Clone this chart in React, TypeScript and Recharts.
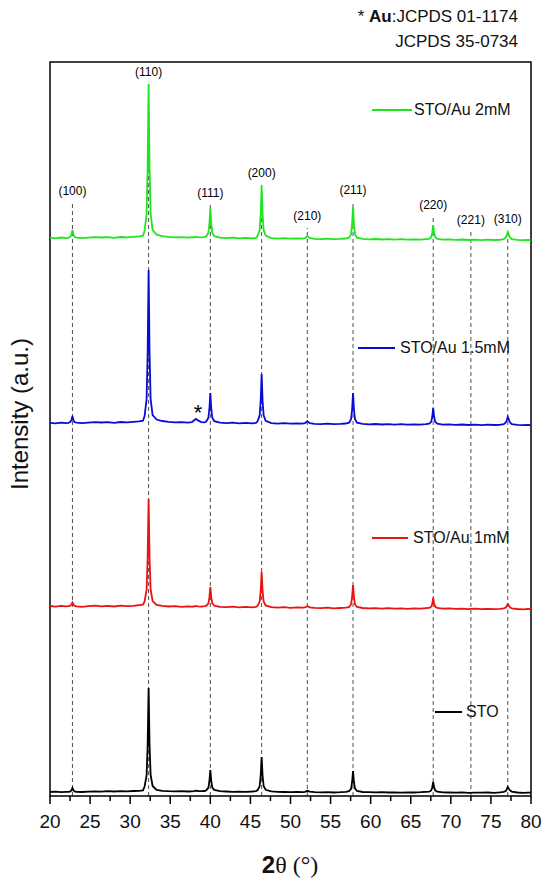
import { LineChart, Line, XAxis, YAxis, ReferenceLine, ReferenceArea, ReferenceDot } from "recharts";

// 2θ sampling (degrees)
const twoTheta = [
  20, 20.7, 21.4, 22.0,
  22.3, 22.55, 22.68, 22.8, 22.92, 23.05, 23.3,
  24.0, 24.8, 25.6, 26.4, 27.2, 28.0, 28.8, 29.6, 30.4, 31.1, 31.6,
  31.8, 32.05, 32.18, 32.3, 32.42, 32.55, 32.8,
  33.3, 34.0, 34.8, 35.6, 36.4, 37.2, 37.7,
  37.95, 38.2, 38.45,
  38.9, 39.3,
  39.5, 39.75, 39.88, 40.0, 40.12, 40.25, 40.5,
  41.2, 42.0, 42.8, 43.6, 44.4, 45.2, 45.7,
  45.9, 46.15, 46.28, 46.4, 46.52, 46.65, 46.9,
  47.6, 48.4, 49.2, 50.0, 50.8, 51.5,
  51.8, 52.1, 52.4,
  53.0, 53.8, 54.6, 55.4, 56.2, 56.9,
  57.3, 57.55, 57.68, 57.8, 57.92, 58.05, 58.3,
  59.0, 59.8, 60.6, 61.4, 62.2, 63.0, 63.8, 64.6, 65.4, 66.2, 66.9,
  67.3, 67.55, 67.68, 67.8, 67.92, 68.05, 68.3,
  69.0, 69.8, 70.6, 71.4, 72.2, 73.0, 73.8, 74.6, 75.4, 76.1, 76.6,
  76.85, 76.98, 77.1, 77.22, 77.35, 77.6,
  78.3, 79.0, 79.6, 80.0,
];

// stacked intensities (a.u., offset per sample)
const stoIntensity = [
  4.0, 4.3, 3.8, 4.2,
  4.1, 4.6, 5.8, 8.0, 5.8, 4.6, 4.2,
  4.0, 4.4, 4.6, 4.3, 4.8, 4.5, 4.9, 4.6, 5.0, 5.2, 5.6,
  9.5, 20.5, 51, 108, 51, 21, 10,
  6.0, 5.2, 4.8, 4.6, 4.9, 4.5, 4.7,
  4.8, 5.3, 5.0,
  4.8, 5.0,
  5.8, 8.2, 14.5, 26, 14.5, 8.4, 6.0,
  4.8, 4.5, 4.2, 4.4, 4.1, 4.5, 4.9,
  5.9, 9.7, 20, 39, 20, 9.9, 6.2,
  4.6, 4.2, 4.0, 3.8, 4.1, 3.9,
  4.2, 5.2, 4.3,
  3.8, 3.6, 3.9, 3.5, 3.8, 4.2,
  4.9, 7.2, 13.5, 25, 13.5, 7.3, 5.0,
  4.0, 3.8, 3.6, 3.9, 3.5, 3.7, 3.4, 3.6, 3.5, 3.8, 4.2,
  4.3, 5.5, 8.5, 14, 8.5, 5.6, 4.3,
  3.6, 3.5, 3.3, 3.6, 3.2, 3.4, 3.3, 3.5, 3.2, 3.6, 4.1,
  5.0, 6.8, 9, 7.4, 5.8, 4.4,
  3.5, 3.2, 3.4, 3.3,
];

const au1Intensity = [
  190.0, 189.4, 190.2, 189.6,
  189.8, 190.4, 191.5, 193.5, 191.6, 190.3, 189.7,
  189.2, 189.8, 190.3, 189.7, 190.1, 189.5, 190.4, 189.9, 190.2, 190.8, 191.3,
  194.5, 206, 238, 297, 238, 206.5, 195,
  191.2, 190.1, 189.5, 189.8, 189.2, 189.6, 189.3,
  189.5, 190.1, 189.6,
  189.4, 189.8,
  190.3, 192.5, 198.3, 209, 198.3, 192.6, 190.4,
  189.2, 188.8, 189.3, 188.7, 189.1, 188.6, 189.2,
  190.4, 194.3, 204.8, 224, 204.8, 194.5, 190.6,
  188.9, 188.4, 188.8, 188.2, 188.6, 188.3,
  188.6, 189.8, 188.7,
  188.1, 187.8, 188.3, 187.6, 188.0, 188.4,
  188.9, 191.5, 198.5, 211, 198.5, 191.6, 189.0,
  188.0, 187.6, 187.9, 187.4, 187.8, 187.3, 187.7, 187.2, 187.6, 187.3, 187.8,
  188.1, 189.3, 192.2, 198, 192.2, 189.4, 188.0,
  187.3, 187.6, 187.1, 187.4, 186.9, 187.3, 186.8, 187.2, 186.9, 187.1, 187.6,
  188.4, 189.9, 192, 190.5, 188.9, 187.6,
  187.0, 186.7, 187.1, 186.8,
];

const au15Intensity = [
  373.2, 372.6, 373.4, 372.9,
  373.2, 374.1, 376.1, 380, 376.0, 374.0, 373.3,
  372.8, 373.4, 373.9, 373.5, 373.8, 373.2, 374.0, 373.6, 374.2, 374.6, 375.3,
  380, 396.8, 443, 526, 443, 397, 381,
  376.5, 375.0, 374.2, 373.6, 373.9, 373.4, 373.8,
  375.5, 377.2, 375.6,
  373.9, 373.6,
  374.7, 378.0, 386.8, 403, 386.8, 378.2, 374.9,
  373.4, 372.9, 373.3, 372.7, 373.1, 372.6, 373.0,
  375.0, 380.4, 395.0, 422, 395.0, 380.6, 375.2,
  372.9, 372.4, 372.8, 372.3, 372.7, 372.4,
  372.8, 374.8, 372.9,
  372.2, 371.9, 372.4, 371.8, 372.1, 372.5,
  373.3, 376.7, 386.0, 403, 386.0, 376.8, 373.4,
  372.1, 371.7, 372.0, 371.5, 371.9, 371.4, 371.8, 371.3, 371.7, 371.4, 371.9,
  372.3, 374.1, 379.0, 388, 379.0, 374.2, 372.3,
  371.4, 371.7, 371.2, 371.5, 371.0, 371.4, 370.9, 371.3, 371.0, 371.2, 371.8,
  373.5, 376.0, 379, 376.8, 374.0, 371.9,
  371.1, 370.8, 371.2, 370.9,
];

const au2Intensity = [
  558.3, 557.7, 558.5, 557.9,
  558.2, 559.3, 561.6, 566, 561.5, 559.2, 558.3,
  557.8, 558.4, 558.9, 558.5, 558.8, 558.2, 559.0, 558.6, 559.2, 559.6, 560.3,
  565.1, 582, 628, 712, 628, 582.3, 566,
  561.3, 559.9, 559.1, 558.6, 558.9, 558.4, 558.8,
  558.7, 559.3, 558.8,
  558.6, 558.9,
  559.7, 563.0, 571.8, 588, 571.8, 563.2, 559.9,
  558.4, 557.9, 558.3, 557.7, 558.1, 557.6, 558.0,
  560.1, 565.8, 581.4, 610, 581.4, 566, 560.3,
  557.9, 557.4, 557.8, 557.3, 557.7, 557.4,
  557.9, 559.9, 558.0,
  557.2, 556.9, 557.4, 556.8, 557.1, 557.5,
  558.3, 561.8, 571.4, 589, 571.4, 561.9, 558.4,
  557.1, 556.7, 557.0, 556.5, 556.9, 556.4, 556.8, 556.3, 556.7, 556.4, 556.9,
  557.2, 558.8, 563.1, 571, 563.1, 558.9, 557.2,
  556.4, 556.7, 556.2, 556.5, 556.0, 556.4, 555.9, 556.3, 556.0, 556.2, 556.8,
  558.5, 561.0, 564, 561.8, 559.0, 556.9,
  556.1, 555.8, 556.2, 555.9,
];

// JCPDS 35-0734 reflections
const planeLabels = ["(100)", "(110)", "(111)", "(200)", "(210)", "(211)", "(220)", "(221)", "(310)"];
const planeAngles = [22.8, 32.3, 40.0, 46.4, 52.1, 57.8, 67.8, 72.5, 77.1];
const planeLineTops = [593, 712, 591, 611, 568, 594, 579, 564, 565];

const xTicks = [
  20, 22.5, 25, 27.5, 30, 32.5, 35, 37.5, 40, 42.5, 45, 47.5, 50,
  52.5, 55, 57.5, 60, 62.5, 65, 67.5, 70, 72.5, 75, 77.5, 80,
];

const seriesKeys = ["sto", "au1", "au15", "au2"];
const seriesNames = ["STO", "STO/Au 1mM", "STO/Au 1.5mM", "STO/Au 2mM"];
const seriesColors = ["#000000", "#ee1111", "#0a0ad6", "#1ee61e"];

const rows = twoTheta.map((t, i) => ({
  t,
  sto: stoIntensity[i],
  au1: au1Intensity[i],
  au15: au15Intensity[i],
  au2: au2Intensity[i],
}));

const FONT = "'Liberation Sans', Arial, Helvetica, sans-serif";

function XTick(props: any) {
  const { x, y, payload } = props;
  const v = payload.value;
  const major = v % 5 === 0;
  return (
    <g>
      <line x1={x} x2={x} y1={y} y2={y + (major ? 8 : 5)} stroke="#000" strokeWidth={1.5} />
      {major && (
        <text x={x} y={y + 32} textAnchor="middle" fontSize={19} fontFamily={FONT} fill="#111">
          {v}
        </text>
      )}
    </g>
  );
}

// legend positions (px)
const legendPos = [
  { x1: 435, x2: 462, tx: 466, y: 712 },
  { x1: 372, x2: 408, tx: 413, y: 538 },
  { x1: 358, x2: 395, tx: 400, y: 348 },
  { x1: 372, x2: 412, tx: 414, y: 110 },
];

export default function App() {
  return (
    <div style={{ position: "absolute", left: 0, top: 0, width: 550, height: 881, background: "#fff", fontFamily: FONT }}>
      <LineChart width={550} height={881} data={rows} margin={{ top: 62, right: 19, bottom: 0, left: 50 }}>
        <XAxis
          dataKey="t"
          type="number"
          domain={[20, 80]}
          ticks={xTicks}
          interval={0}
          height={85}
          axisLine={false}
          tickLine={false}
          tickSize={0}
          tickMargin={0}
          tick={<XTick />}
          allowDataOverflow
        />
        <YAxis hide type="number" domain={[0, 734]} allowDataOverflow />
        {planeAngles.map((a, i) => (
          <ReferenceLine
            key={planeLabels[i]}
            segment={[{ x: a, y: 0 }, { x: a, y: planeLineTops[i] }]}
            stroke="#222"
            strokeWidth={0.8}
            strokeDasharray="4 3"
            label={{ value: planeLabels[i], position: "top", offset: 8, fontSize: 12, fill: "#000", fontFamily: FONT }}
          />
        ))}
        {seriesKeys.map((k, i) => (
          <Line
            key={k}
            dataKey={k}
            type="linear"
            stroke={seriesColors[i]}
            strokeWidth={1.8}
            dot={false}
            isAnimationActive={false}
          />
        ))}
        <ReferenceDot
          x={38.45}
          y={384}
          r={0}
          label={{ value: "*", position: "center", fontSize: 22, fill: "#000", fontFamily: FONT }}
        />
        <ReferenceArea x1={20} x2={80} y1={0} y2={734} fill="none" fillOpacity={0} stroke="#000" strokeWidth={1.5} />
      </LineChart>

      {legendPos.map((p, i) => (
        <div key={seriesNames[i]}>
          <div
            style={{
              position: "absolute",
              left: p.x1,
              top: p.y - 1,
              width: p.x2 - p.x1,
              height: 0,
              borderTop: `2px solid ${seriesColors[i]}`,
            }}
          />
          <div style={{ position: "absolute", left: p.tx, top: p.y - 8, fontSize: 16, lineHeight: "16px", color: "#111", whiteSpace: "nowrap" }}>
            {seriesNames[i]}
          </div>
        </div>
      ))}

      <div style={{ position: "absolute", right: 32, top: 8, fontSize: 17, lineHeight: "17px", color: "#111", whiteSpace: "nowrap" }}>
        * <b>Au</b>:JCPDS 01-1174
      </div>
      <div style={{ position: "absolute", right: 32, top: 33, fontSize: 17, lineHeight: "17px", color: "#111", whiteSpace: "nowrap" }}>
        JCPDS 35-0734
      </div>

      <div
        style={{
          position: "absolute",
          left: 20 - 110,
          top: 414 - 12,
          width: 220,
          textAlign: "center",
          fontSize: 24,
          lineHeight: "24px",
          color: "#111",
          transform: "rotate(-90deg)",
          whiteSpace: "nowrap",
        }}
      >
        Intensity (a.u.)
      </div>

      <div
        style={{
          position: "absolute",
          left: 290 - 60,
          top: 865 - 12,
          width: 120,
          textAlign: "center",
          fontSize: 24,
          lineHeight: "24px",
          color: "#111",
          whiteSpace: "nowrap",
        }}
      >
        <b>2</b>
        <span style={{ fontFamily: "'Liberation Serif', 'Times New Roman', serif" }}>θ (°)</span>
      </div>
    </div>
  );
}
